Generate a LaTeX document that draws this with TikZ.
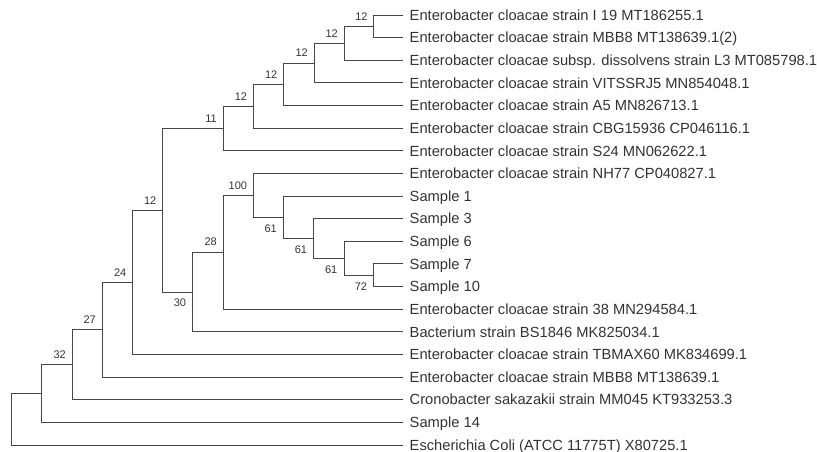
\documentclass[tikz,border=0pt]{standalone}
\usepackage{fontspec}
\setmainfont{Liberation Sans}
\usetikzlibrary{positioning}
\definecolor{branchgray}{HTML}{474747}
\definecolor{taxongray}{HTML}{333333}

\begin{document}
\begin{tikzpicture}[
  x=1pt, y=-1pt,
  branch/.style={draw=branchgray, line width=0.9pt},
  taxon/.style={anchor=west, inner xsep=6.5pt, inner ysep=0pt, text height=10.5pt, text depth=0pt, text=taxongray, font=\fontsize{14.7}{16}\selectfont},
  boot/.style={inner sep=0pt, text=taxongray, font=\fontsize{11}{13}\selectfont}
]
  \useasboundingbox (0,0) rectangle (817,452);

  \node[taxon] (l1)  at (403,15)    {Enterobacter cloacae strain I 19 MT186255.1};
  \node[taxon] (l2)  at (403,37.6)  {Enterobacter cloacae strain MBB8 MT138639.1(2)};
  \node[taxon] (l3)  at (403,60.3)  {Enterobacter cloacae subsp. dissolvens strain L3 MT085798.1};
  \node[taxon] (l4)  at (403,82.9)  {Enterobacter cloacae strain VITSSRJ5 MN854048.1};
  \node[taxon] (l5)  at (403,105.5) {Enterobacter cloacae strain A5 MN826713.1};
  \node[taxon] (l6)  at (403,128.2) {Enterobacter cloacae strain CBG15936 CP046116.1};
  \node[taxon] (l7)  at (403,150.8) {Enterobacter cloacae strain S24 MN062622.1};
  \node[taxon] (l8)  at (403,173.4) {Enterobacter cloacae strain NH77 CP040827.1};
  \node[taxon] (l9)  at (403,196.1) {Sample 1};
  \node[taxon] (l10) at (403,218.7) {Sample 3};
  \node[taxon] (l11) at (403,241.3) {Sample 6};
  \node[taxon] (l12) at (403,263.9) {Sample 7};
  \node[taxon] (l13) at (403,286.6) {Sample 10};
  \node[taxon] (l14) at (403,309.2) {Enterobacter cloacae strain 38 MN294584.1};
  \node[taxon] (l15) at (403,331.8) {Bacterium strain BS1846 MK825034.1};
  \node[taxon] (l16) at (403,354.5) {Enterobacter cloacae strain TBMAX60 MK834699.1};
  \node[taxon] (l17) at (403,377.1) {Enterobacter cloacae strain MBB8 MT138639.1};
  \node[taxon] (l18) at (403,399.7) {Cronobacter sakazakii strain MM045 KT933253.3};
  \node[taxon] (l19) at (403,422.4) {Sample 14};
  \node[taxon] (l20) at (403,445)   {Escherichia Coli (ATCC 11775T) X80725.1};

  \coordinate (A) at (373.8,26.3);
  \coordinate (B) at (344,43.3);
  \coordinate (C) at (314,63.1);
  \coordinate (D) at (283.5,84.3);
  \coordinate (E) at (253.3,106.25);
  \coordinate (F) at (223,128.5);
  \coordinate (G) at (373.8,275.25);
  \coordinate (H) at (344,258.3);
  \coordinate (I) at (313.8,238.5);
  \coordinate (J) at (283.5,217.3);
  \coordinate (K) at (253.3,195.35);
  \coordinate (L) at (223,252.3);
  \coordinate (M) at (192.7,292.05);
  \coordinate (N) at (162.5,210.3);
  \coordinate (O) at (132.5,282.4);
  \coordinate (P) at (102,329.75);
  \coordinate (Q) at (72,364.7);
  \coordinate (S) at (41.8,393.55);
  \coordinate (R) at (11.7,419.3);

  \draw[branch] (A) |- (l1.west);
  \draw[branch] (A) |- (l2.west);
  \draw[branch] (B) |- (A);
  \draw[branch] (B) |- (l3.west);
  \draw[branch] (C) |- (B);
  \draw[branch] (C) |- (l4.west);
  \draw[branch] (D) |- (C);
  \draw[branch] (D) |- (l5.west);
  \draw[branch] (E) |- (D);
  \draw[branch] (E) |- (l6.west);
  \draw[branch] (F) |- (E);
  \draw[branch] (F) |- (l7.west);
  \draw[branch] (G) |- (l12.west);
  \draw[branch] (G) |- (l13.west);
  \draw[branch] (H) |- (l11.west);
  \draw[branch] (H) |- (G);
  \draw[branch] (I) |- (l10.west);
  \draw[branch] (I) |- (H);
  \draw[branch] (J) |- (l9.west);
  \draw[branch] (J) |- (I);
  \draw[branch] (K) |- (l8.west);
  \draw[branch] (K) |- (J);
  \draw[branch] (L) |- (K);
  \draw[branch] (L) |- (l14.west);
  \draw[branch] (M) |- (L);
  \draw[branch] (M) |- (l15.west);
  \draw[branch] (N) |- (F);
  \draw[branch] (N) |- (M);
  \draw[branch] (O) |- (N);
  \draw[branch] (O) |- (l16.west);
  \draw[branch] (P) |- (O);
  \draw[branch] (P) |- (l17.west);
  \draw[branch] (Q) |- (P);
  \draw[branch] (Q) |- (l18.west);
  \draw[branch] (S) |- (Q);
  \draw[branch] (S) |- (l19.west);
  \draw[branch] (R) |- (S);
  \draw[branch] (R) |- (l20.west);

  \node[boot, above left=6pt and 6pt of A] (bA) {12};
  \node[boot, above left=6pt and 6pt of B] (bB) {12};
  \node[boot, above left=6pt and 6pt of C] (bC) {12};
  \node[boot, above left=6pt and 6pt of D] (bD) {12};
  \node[boot, above left=6pt and 6pt of E] (bE) {12};
  \node[boot, above left=6pt and 6pt of F] (bF) {11};
  \node[boot, below left=7pt and 6.5pt of G] (bG) {72};
  \node[boot, below left=7pt and 6.5pt of H] (bH) {61};
  \node[boot, below left=7pt and 6.5pt of I] (bI) {61};
  \node[boot, below left=7pt and 6.5pt of J] (bJ) {61};
  \node[boot, above left=6pt and 6pt of K] (bK) {100};
  \node[boot, above left=6pt and 6pt of L] (bL) {28};
  \node[boot, below left=7pt and 6.5pt of M] (bM) {30};
  \node[boot, above left=6pt and 6pt of N] (bN) {12};
  \node[boot, above left=6pt and 6pt of O] (bO) {24};
  \node[boot, above left=6pt and 6pt of P] (bP) {27};
  \node[boot, above left=6pt and 6pt of Q] (bQ) {32};
\end{tikzpicture}
\end{document}
